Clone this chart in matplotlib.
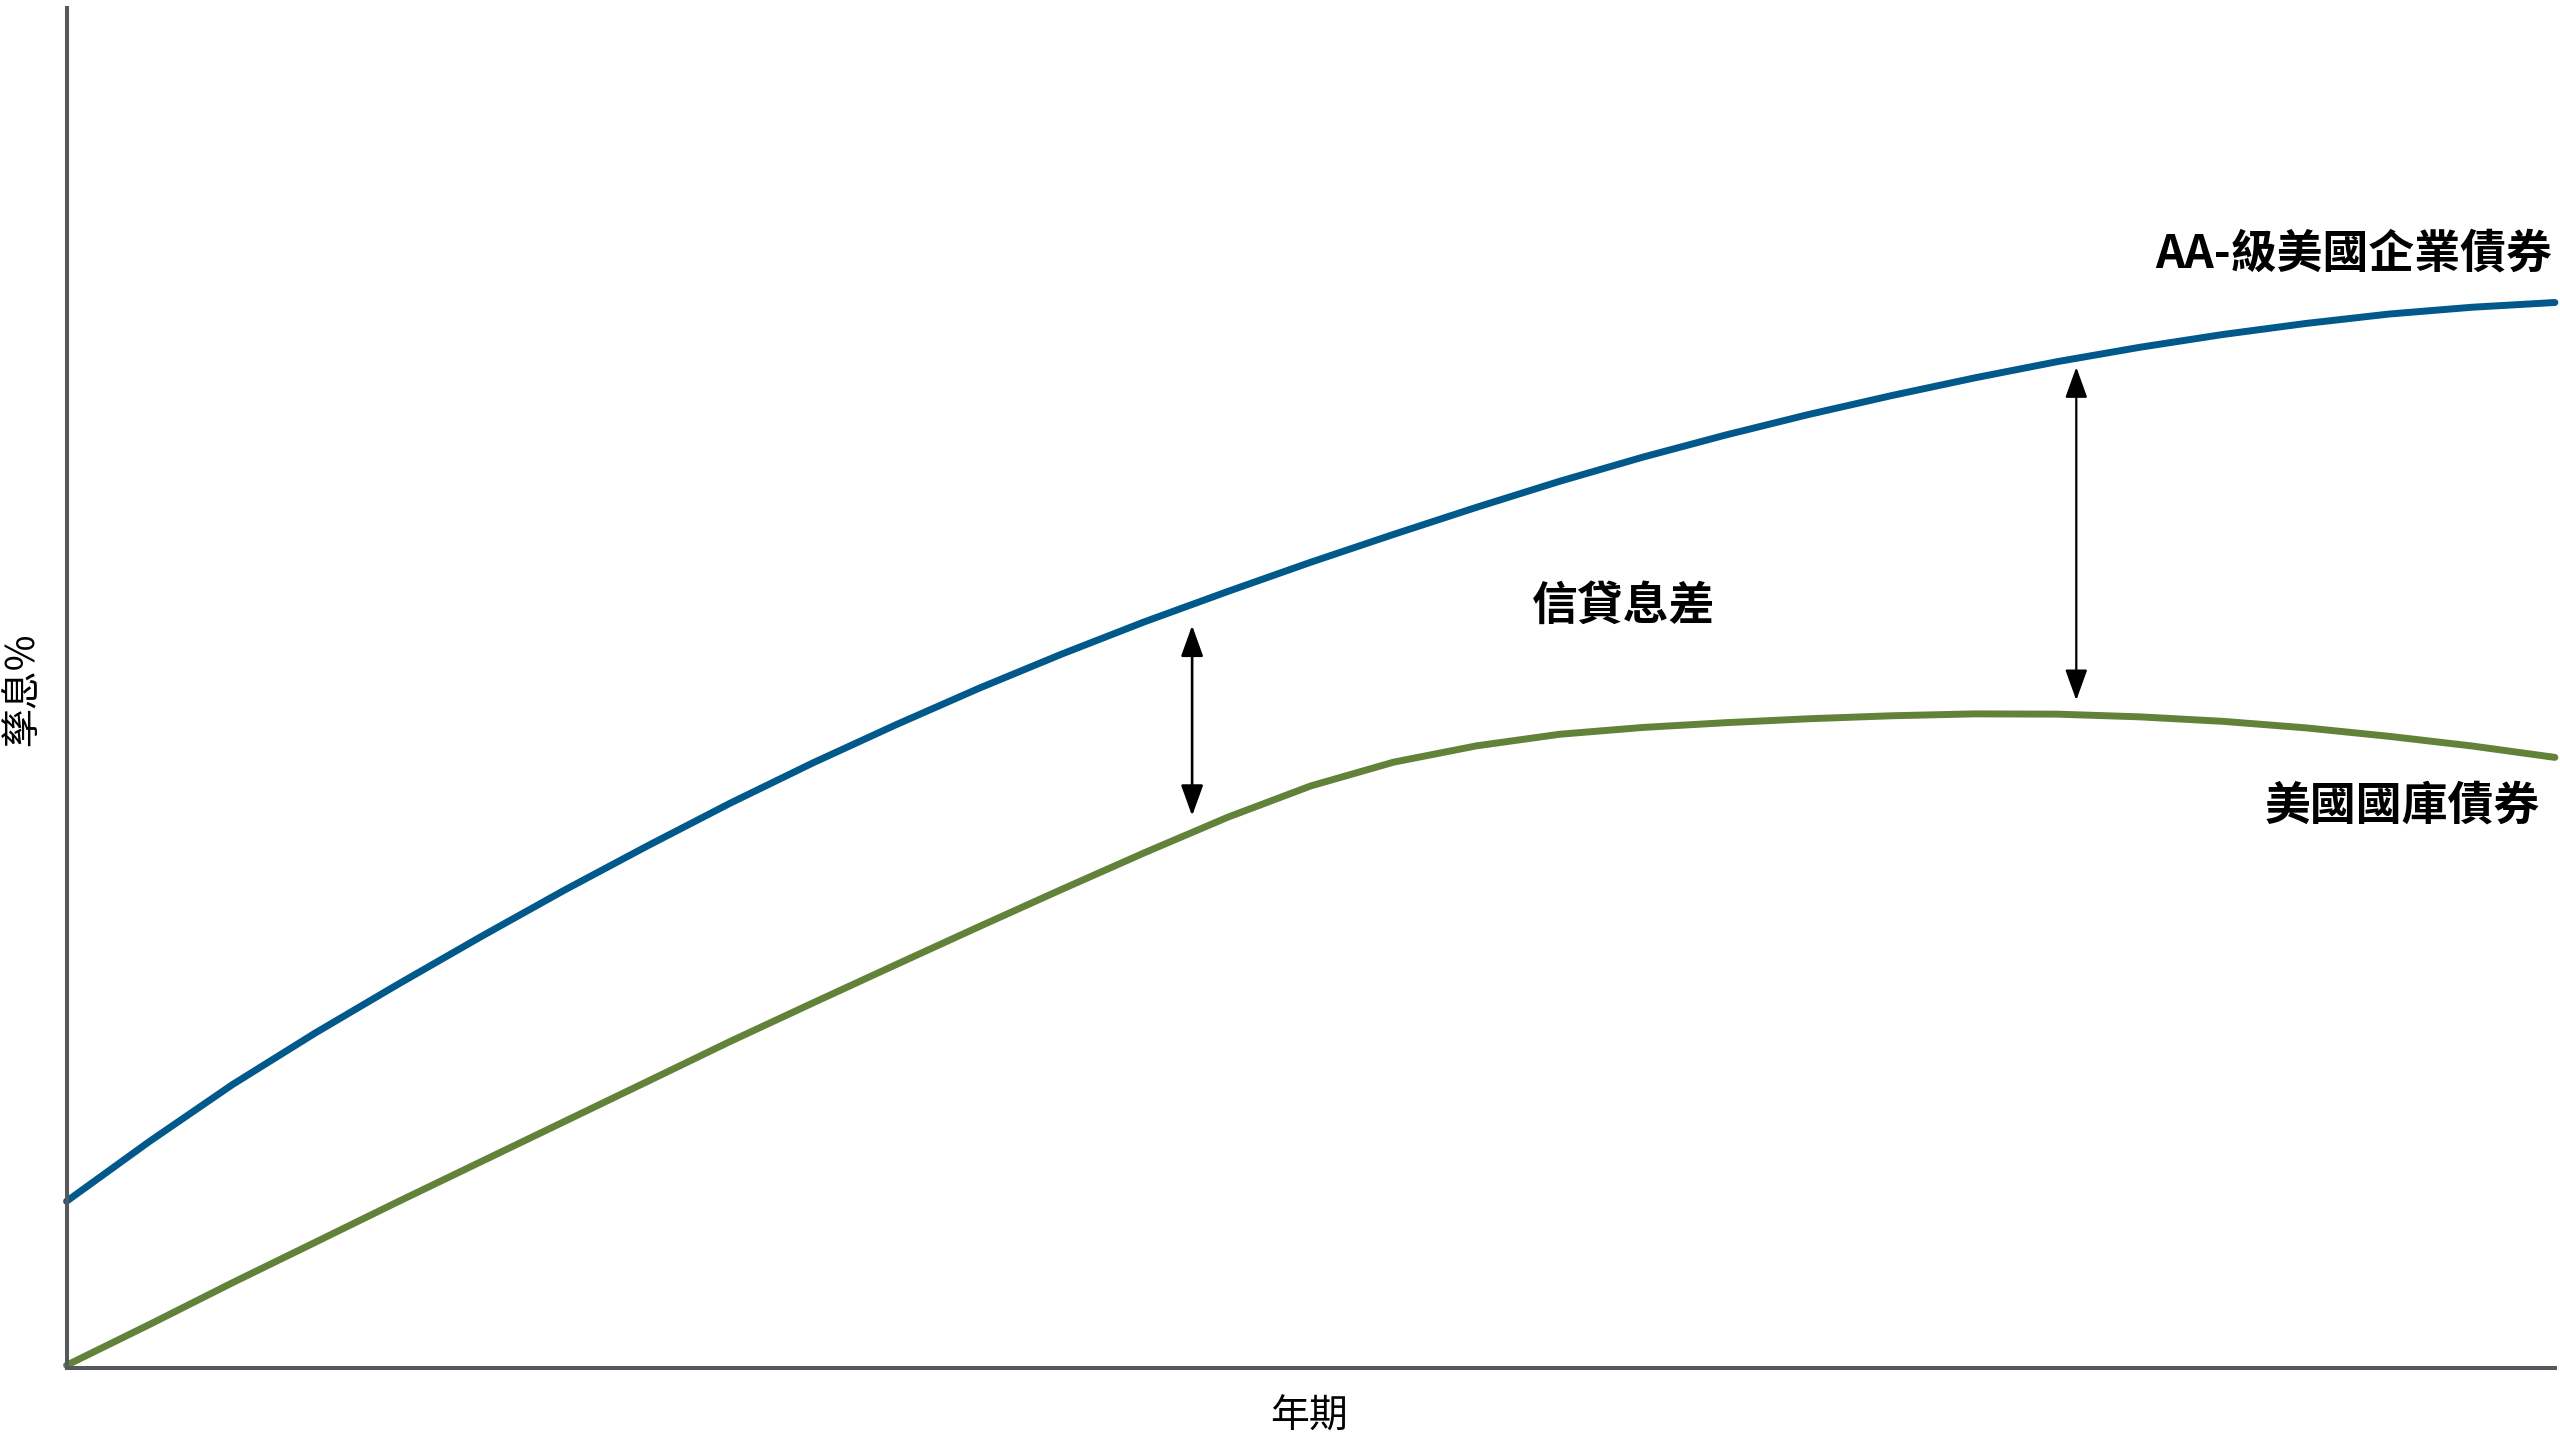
import matplotlib
matplotlib.use("Agg")
import matplotlib.pyplot as plt
from matplotlib.patches import ArrowStyle

plt.rcParams['font.family'] = ['Noto Sans CJK TC', 'DejaVu Sans']

# ---- data (years to maturity vs. yield, illustrative) ----
corp_years = list(range(0, 31))
corp_yield = [1.226, 1.666, 2.084, 2.464, 2.823, 3.173, 3.513, 3.838, 4.153, 4.45,
              4.73, 4.998, 5.25, 5.488, 5.71, 5.925, 6.13, 6.329, 6.52, 6.697,
              6.86, 7.011, 7.15, 7.28, 7.40, 7.506, 7.60, 7.681, 7.75, 7.80, 7.835]

tsy_years = list(range(0, 31))
tsy_yield = [0.02, 0.32, 0.627, 0.925, 1.224, 1.518, 1.812, 2.106, 2.401, 2.685,
             2.966, 3.245, 3.52, 3.79, 4.05, 4.28, 4.455, 4.575, 4.66, 4.71,
             4.745, 4.774, 4.796, 4.81, 4.808, 4.788, 4.755, 4.707, 4.645, 4.574, 4.49]

# spread arrows: x position, top yield, bottom yield
arrow_x = [13.57, 24.23]
arrow_top = [5.46, 7.36]
arrow_bottom = [4.06, 4.91]

corp_label = "AA-級美國企業債券"
tsy_label = "美國國庫債券"
spread_label = "信貸息差"
x_label = "年期"
y_label = "孳息%"

blue = "#00598a"
green = "#62823a"
spine_col = "#55595d"

fig = plt.figure(figsize=(25.6, 14.4), dpi=100)
ax = fig.add_axes([0.026, 0.05, 0.972, 0.9444])

ax.plot(corp_years, corp_yield, color=blue, lw=5.0, solid_capstyle='round',
        solid_joinstyle='round', clip_on=False)
ax.plot(tsy_years, tsy_yield, color=green, lw=5.0, solid_capstyle='round',
        solid_joinstyle='round', clip_on=False)

style = ArrowStyle('<|-|>', head_length=1.0, head_width=0.36)
for xa, yt, yb, lw in zip(arrow_x, arrow_top, arrow_bottom, [1.9, 1.6]):
    ax.annotate("", xy=(xa, yt), xytext=(xa, yb),
                arrowprops=dict(arrowstyle=style, mutation_scale=19, color='black',
                                lw=lw, shrinkA=0, shrinkB=0))

ax.set_xlim(0, 30)
ax.set_ylim(0, 10)
ax.set_xticks([])
ax.set_yticks([])
for s in ['top', 'right']:
    ax.spines[s].set_visible(False)
for s in ['left', 'bottom']:
    ax.spines[s].set_color(spine_col)
    ax.spines[s].set_linewidth(2.9)

ax.text(0.9988, 0.8184, corp_label, transform=ax.transAxes, ha='right', va='center',
        fontsize=33, fontweight='bold', color='black')
ax.text(0.994, 0.4132, tsy_label, transform=ax.transAxes, ha='right', va='center',
        fontsize=33, fontweight='bold', color='black')
ax.text(0.6259, 0.5596, spread_label, transform=ax.transAxes, ha='center', va='center',
        fontsize=33, fontweight='bold', color='black')
ax.text(0.4995, -0.036, x_label, transform=ax.transAxes, ha='center', va='center',
        fontsize=28, color='black')
ax.text(-0.0179, 0.4993, y_label, transform=ax.transAxes, ha='center', va='center',
        fontsize=28, rotation=90, color='black')

fig.savefig("out.png", dpi=100, facecolor='white')
